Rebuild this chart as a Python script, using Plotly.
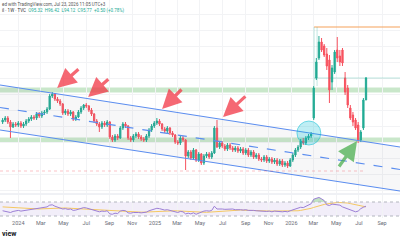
import plotly.graph_objects as go
import numpy as np
import pandas as pd

# ---------------- data ----------------
dates = pd.date_range("2023-11-20", periods=140, freq="7D")

opens = [74,75,76,74,71.5,73,72.5,73.5,72,73,74.5,75.5,76.5,76,78,77,78.5,79,80.5,87,
         88,85.5,84.5,83,78.5,79.5,78,79,75.5,76.5,79,81,82.5,82,80,78,74.5,73,71.5,73.5,
         72.5,74,66.5,65,67,66,71,73,72,66,65,67,68,66.5,65.5,65,67,70,72,73.5,
         74.5,73,70.5,69.5,71,68.5,67.5,64,63.5,66,65,57,59,56,60,55,58,53.5,57,58,
         56.5,58.5,71,61.5,63.5,62,60.5,62.5,61,60,61,59.5,60.5,58.5,60,57.5,59,56.5,57.5,55.5,
         55,56.5,54.5,55.5,54,55,53,54.5,52.5,53.5,52,55,57.5,60,61.5,64.5,63.5,66,67,
         76,96,106,114,112,108,105,94,99,110,107,110,96,91,81,77.5,75,72.5,65,71,85]
highs = [76,77,77,75,74,74,74.5,74.5,74,75.5,76.5,77.5,77.5,79,79,79.5,80,81.5,88,89,
         88.5,86.5,85.5,83.5,80.5,80.5,80,79.5,77.5,80,82,83,83.5,82.5,81,78.5,75.5,74,74.5,74.5,
         75,74.5,67.5,68,68,72,74,74,72.5,67,68,69,69,67.5,66.5,68,71,73,74.5,76,
         75.5,73.5,71.5,72,71.5,69.5,68,65,67,67,65.5,60,60,61,60.5,59,58.5,58,59,59,
         59.5,72,75,64.5,64.5,63,63.5,63.5,62,62,62,61.5,61.5,61,61,60,60,58.5,58.5,56.5,
         57.5,57.5,56.5,56.5,56,56,55.5,55.5,54.5,54.5,56,58.5,61,62.5,65.5,66,67,68,69,
         92,106,117,116,113,111,107.5,102.5,110,116.5,110,111,99,92.5,82.5,79,76,74,70,86,96.5]
lows = [73,74,73,66,71,71.5,71.5,71,71,72,73.5,74.5,75,75,76,76,77.5,78,80,86,
        84.5,83.5,82,77.5,77.5,77,77,74.5,74.5,76,78,80,81,79,77,73.5,72,69,70.5,71.5,
        71.5,65.5,64,64,65,65.5,70,71,65,64,64,66,65.5,64.5,64,64,66,69,71,72.5,
        72,69.5,68.5,68.5,67.5,66.5,63,62.5,62.5,64,50,56,55,55,54,54,52.5,52.5,56,55.5,
        55.5,58,61,60.5,61,59.5,59.5,60,59,59,58.5,58.5,57.5,57.5,56.5,56.5,55.5,55.5,54.5,54,
        54,53.5,53.5,53,53,52,52,51.5,51.5,51,51.5,54,56.5,59,60.5,62.5,62.5,65,66,
        75,95,105,109,106.5,100,83.5,90,98,104,102,102,87.5,81,75,72,70,63.5,64,70,85]
closes = [75,76,74,71.5,73,72.5,73.5,72,73,74.5,75.5,76.5,76,78,77,78.5,79,80.5,87,88,
          85.5,84.5,83,78.5,79.5,78,79,75.5,76.5,79,81,82.5,82,80,78,74.5,73,71.5,73.5,72.5,
          74,66.5,65,67,66,71,73,72,66,65,67,68,66.5,65.5,65,67,70,72,73.5,74.5,
          73,70.5,69.5,71,68.5,67.5,64,63.5,66,65,57,59,56,60,55,58,53.5,57,58,56.5,
          58.5,71,61.5,63.5,62,60.5,62.5,61,60,61,59.5,60.5,58.5,60,57.5,59,56.5,57.5,55.5,55,
          56.5,54.5,55.5,54,55,53,54.5,52.5,53.5,52,55,57.5,60,61.5,64.5,63.5,66,67,68,
          91,104,114,110,107.5,102,90,101,109,106,104,103.5,89,82.5,76,74,71,65,69,85,96]

rsi = [45,44,42,40,43,45,46,44,45,47,48,50,49,52,51,53,54,56,61,62,
       58,56,54,50,51,49,50,46,47,50,52,54,53,51,49,46,44,42,44,43,
       45,36,35,38,37,44,46,45,39,38,40,41,40,39,39,41,45,48,50,52,
       51,48,47,48,46,45,41,40,43,42,36,38,36,39,35,38,42,44,45,44,
       46,58,50,51,50,49,50,49,50,48,49,48,47,48,46,47,46,45,44,45,
       44,43,44,42,44,43,44,42,43,42,45,48,51,53,55,54,57,60,65,78,
       81,83,79,74,62,60,64,63,62,61,56,53,49,47,45,42,44,51,55,58]
rsi_ma = [56,55.5,55,54.5,54,53,52.5,52,51.5,51,50.5,50,50,50,50,50.5,51,51.5,52,52.5,
          53,53.5,53.5,53.5,53,52.5,52,52,51.5,51.5,51.5,51,51,50.5,50,49.5,49,48.5,48,47.5,
          47,46,45,44.5,44,43.5,43,42.5,42,41.5,41.5,41,41,41,41,41.5,42,42.5,43,43.5,
          44,44.5,45,45,45.5,45.5,45,44.5,44,43.5,43,42.5,42,41.5,41,40.5,40.5,40.5,40.5,41,
          41.5,42.5,43.5,44.5,45.5,46,46.5,47,47,47,47,47,46.5,46.5,46,46,45.5,45.5,45,45,
          44.5,44.5,44,44,43.5,43.5,43.5,43,43,43,43,43.5,44,45,46,47,48.5,50,52,54.5,
          57,59.5,61.5,63,64.5,66,67,68,68.5,68.5,68.5,68,67,65.5,64,62,60,58.5,57,56]

tick_dates = ["2024-01-01","2024-03-01","2024-05-01","2024-07-01","2024-09-01","2024-11-01",
              "2025-01-01","2025-03-01","2025-05-01","2025-07-01","2025-09-01","2025-11-01",
              "2026-01-01","2026-03-01","2026-05-01","2026-07-01","2026-09-01"]
tick_text = ["2024","Mar","May","Jul","Sep","Nov","2025","Mar","May","Jul","Sep","Nov",
             "2026","Mar","May","Jul","Sep"]

# drawings (anchor points)
x_start, x_end = "2023-11-13", "2026-10-19"
chan_upper = [92.5, 61.5]
chan_mid = [81.25, 50.25]
chan_lower = [70.0, 39.5]
band_hi = [88.7, 91.3]
band_lo = [63.7, 66.3]
target_price = 121.5
last_line_price = 96
low_line_price = 49.5
red_arrows = [  # (tail date, tail price, head date, head price)
    ("2024-06-14", 101, "2024-04-14", 91),
    ("2024-09-02", 96, "2024-07-06", 86.5),
    ("2025-03-17", 91, "2025-01-20", 80.5),
    ("2025-09-04", 87.5, "2025-07-02", 76.5),
]
green_arrow = ("2026-05-06", 51, "2026-06-26", 64.5)
circle_box = ("2026-01-16", "2026-03-21", 62.5, 74.5)

GREEN = "#22ab94"
RED = "#f7525f"
BLUE = "#5b8def"

fig = go.Figure()

# channel fill
fig.add_trace(go.Scatter(x=[x_start, x_end, x_end, x_start],
                         y=[chan_upper[0], chan_upper[1], chan_lower[1], chan_lower[0]],
                         fill="toself", fillcolor="rgba(120,123,134,0.06)",
                         line=dict(width=0), mode="lines", hoverinfo="skip", showlegend=False))

fig.add_trace(go.Candlestick(
    x=dates, open=opens, high=highs, low=lows, close=closes,
    increasing=dict(line=dict(color=GREEN, width=1), fillcolor=GREEN),
    decreasing=dict(line=dict(color=RED, width=1), fillcolor=RED),
    whiskerwidth=0, showlegend=False, xaxis="x", yaxis="y"))

# channel lines
for vals, dash in [(chan_upper, "solid"), (chan_mid, "dash"), (chan_lower, "solid")]:
    fig.add_trace(go.Scatter(x=[x_start, x_end], y=vals, mode="lines",
                             line=dict(color=BLUE, width=1.2, dash=dash),
                             hoverinfo="skip", showlegend=False))

# RSI pane
rsi_arr = np.array(rsi, dtype=float)
fig.add_trace(go.Scatter(x=dates, y=[70]*len(dates), mode="lines", line=dict(width=0),
                         yaxis="y2", hoverinfo="skip", showlegend=False))
fig.add_trace(go.Scatter(x=dates, y=np.maximum(rsi_arr, 70), mode="lines", line=dict(width=0),
                         fill="tonexty", fillcolor="rgba(76,175,80,0.35)",
                         yaxis="y2", hoverinfo="skip", showlegend=False))
fig.add_trace(go.Scatter(x=dates, y=rsi_ma, mode="lines", line=dict(color="#f5c862", width=1),
                         yaxis="y2", showlegend=False))
fig.add_trace(go.Scatter(x=dates, y=rsi, mode="lines", line=dict(color="#9c7fd6", width=1),
                         yaxis="y2", showlegend=False))

shapes = []
# bands
for b in (band_hi, band_lo):
    shapes.append(dict(type="rect", xref="paper", yref="y", x0=0, x1=1, y0=b[0], y1=b[1],
                       fillcolor="rgba(76,175,80,0.3)", line=dict(width=0), layer="below"))
# target / price lines
shapes.append(dict(type="line", xref="x", yref="y", x0="2026-03-03", x1=x_end,
                   y0=target_price, y1=target_price, line=dict(color="#f5a15a", width=1.2)))
shapes.append(dict(type="line", xref="x", yref="y", x0="2026-03-03", x1=x_end,
                   y0=last_line_price, y1=last_line_price,
                   line=dict(color="rgba(34,171,148,0.3)", width=1)))
for d in ("2026-03-03", "2026-03-11"):
    shapes.append(dict(type="line", xref="x", yref="y", x0=d, x1=d, y0=target_price, y1=92,
                       line=dict(color="rgba(34,171,148,0.35)", width=0.8)))
shapes.append(dict(type="line", xref="x", yref="y", x0=x_start, x1="2026-07-20",
                   y0=low_line_price, y1=low_line_price,
                   line=dict(color="rgba(242,54,69,0.3)", width=1, dash="dot")))
# circle
shapes.append(dict(type="circle", xref="x", yref="y", x0=circle_box[0], x1=circle_box[1],
                   y0=circle_box[2], y1=circle_box[3],
                   fillcolor="rgba(0,188,212,0.25)", line=dict(color="rgba(0,188,212,0.5)", width=1)))
# RSI band
shapes.append(dict(type="rect", xref="paper", yref="y2", x0=0, x1=1, y0=30, y1=70,
                   fillcolor="rgba(126,87,194,0.1)", line=dict(width=0), layer="below"))
for lvl in (30, 70):
    shapes.append(dict(type="line", xref="paper", yref="y2", x0=0, x1=1, y0=lvl, y1=lvl,
                       line=dict(color="#b2b5be", width=1, dash="dot")))
# pane separator
shapes.append(dict(type="line", xref="paper", yref="paper", x0=0, x1=1,
                   y0=1 - 194/240, y1=1 - 194/240, line=dict(color="#e0e3eb", width=1)))

annotations = []
for tx, ty, hx, hy in red_arrows:
    annotations.append(dict(x=hx, y=hy, ax=tx, ay=ty, xref="x", yref="y", axref="x", ayref="y",
                            text="", showarrow=True, arrowhead=2, arrowsize=1.2, arrowwidth=3.2,
                            arrowcolor="rgba(242,54,69,0.75)", standoff=0))
tx, ty, hx, hy = green_arrow
annotations.append(dict(x=hx, y=hy, ax=tx, ay=ty, xref="x", yref="y", axref="x", ayref="y",
                        text="", showarrow=True, arrowhead=2, arrowsize=1.2, arrowwidth=3.2,
                        arrowcolor="rgba(76,175,80,0.75)", standoff=0))
annotations.append(dict(x=0, y=1 - 4/240, xref="paper", yref="paper", xanchor="left", yanchor="middle",
                        text="ed with TradingView.com, Jul 23, 2026 11:05 UTC+3", showarrow=False,
                        font=dict(size=4.5, color="#555", family="Roboto")))
annotations.append(dict(x=0, y=1 - 10.5/240, xref="paper", yref="paper", xanchor="left", yanchor="middle",
                        text="il · 1W · TVC  <span style='color:#22ab94'>O95.32  H96.42  L94.12  C95.77  +0.50 (+0.78%)</span>",
                        showarrow=False, font=dict(size=4.5, color="#333", family="Roboto")))
annotations.append(dict(x=0, y=1 - 234/240, xref="paper", yref="paper", xanchor="left", yanchor="middle",
                        text="<b>view</b>", showarrow=False,
                        font=dict(size=7, color="#131722", family="Roboto")))

fig.update_layout(
    width=400, height=240, margin=dict(l=0, r=0, t=0, b=0, pad=0, autoexpand=False),
    paper_bgcolor="white", plot_bgcolor="white",
    shapes=shapes, annotations=annotations, showlegend=False,
    xaxis=dict(range=[x_start, x_end], anchor="y2", rangeslider=dict(visible=False), automargin=False,
               tickvals=tick_dates, ticktext=tick_text, tickfont=dict(size=5.5, color="#6a6d78", family="Roboto"),
               showgrid=True, gridcolor="#f2f3f5", zeroline=False, ticks="", ticklen=0, showline=False),
    yaxis=dict(domain=[1 - 193/240, 1], range=[38.5, 135], showticklabels=False, automargin=False,
               showgrid=True, gridcolor="#f2f3f5", dtick=8, zeroline=False),
    yaxis2=dict(domain=[1 - 218/240, 1 - 195/240], range=[24.3, 90], showticklabels=False,
                automargin=False, showgrid=False, zeroline=False),
)

fig.write_html("out.html")
